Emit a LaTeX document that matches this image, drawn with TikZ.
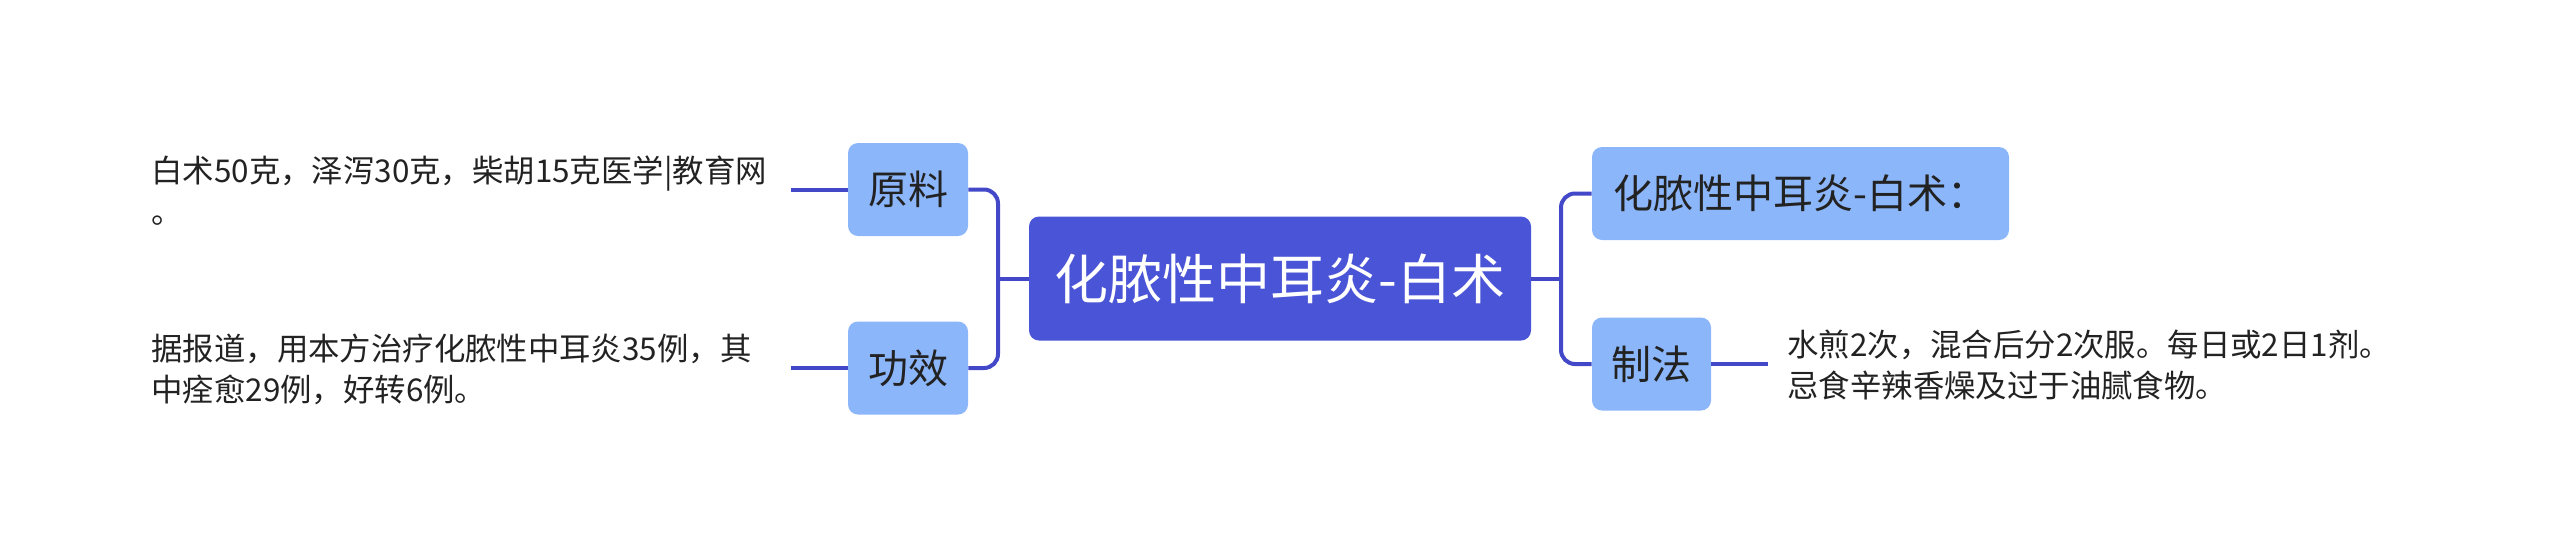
\documentclass[tikz,border=0pt]{standalone}
\usepackage{fontspec}
\setmainfont{Noto Sans CJK SC}
\definecolor{mainblue}{RGB}{74,84,214}
\definecolor{lightblue}{RGB}{140,182,250}
\definecolor{connblue}{RGB}{66,72,200}
\definecolor{txt}{RGB}{34,34,34}
\begin{document}
\begin{tikzpicture}[x=0.5pt,y=-0.5pt,
  rootbox/.style={fill=mainblue,rounded corners=5pt,text=white,minimum width=251pt,minimum height=62pt,inner sep=0pt,font=\fontsize{27}{32}\selectfont},
  subbox/.style={fill=lightblue,rounded corners=5pt,text=txt,minimum height=46.5pt,inner sep=0pt,font=\fontsize{20}{24}\selectfont},
  leaf/.style={text=txt,align=left,anchor=west,inner sep=0pt,font=\fontsize{15.7}{20.5}\selectfont},
  conn/.style={draw=connblue,line width=2pt}
]
\useasboundingbox (0,0) rectangle (2560,558);
\node[rootbox] (c) at (1280,278.5) {化脓性中耳炎-白术};
\node[subbox,minimum width=60pt] (yl) at (908,189.5) {原料};
\node[subbox,minimum width=60pt] (gx) at (908,368) {功效};
\node[subbox,minimum width=208.5pt] (r1) at (1800.5,193.5) {化脓性中耳炎-白术：};
\node[subbox,minimum width=59.5pt] (zf) at (1651.5,364) {制法};
\node[leaf] (t1) at (151,191) {白术50克，泽泻30克，柴胡15克医学|教育网\\。};
\node[leaf] (t2) at (151,369) {据报道，用本方治疗化脓性中耳炎35例，其\\中痊愈29例，好转6例。};
\node[leaf] (t3) at (1787,365) {水煎2次，混合后分2次服。每日或2日1剂。\\忌食辛辣香燥及过于油腻食物。};
\coordinate (lj) at (998,278.5);
\coordinate (rj) at (1561,278.5);
\coordinate (t1e) at (791,189.5);
\coordinate (t2e) at (791,368);
\coordinate (t3e) at (1768,364);
\draw[conn] (c.west) -- (lj);
\draw[conn,rounded corners=7pt] (yl.east) -| (lj) |- (gx.east);
\draw[conn] (c.east) -- (rj);
\draw[conn,rounded corners=7pt] (r1.west) -| (rj) |- (zf.west);
\draw[conn] (yl.west) -- (t1e);
\draw[conn] (gx.west) -- (t2e);
\draw[conn] (zf.east) -- (t3e);
\end{tikzpicture}
\end{document}
